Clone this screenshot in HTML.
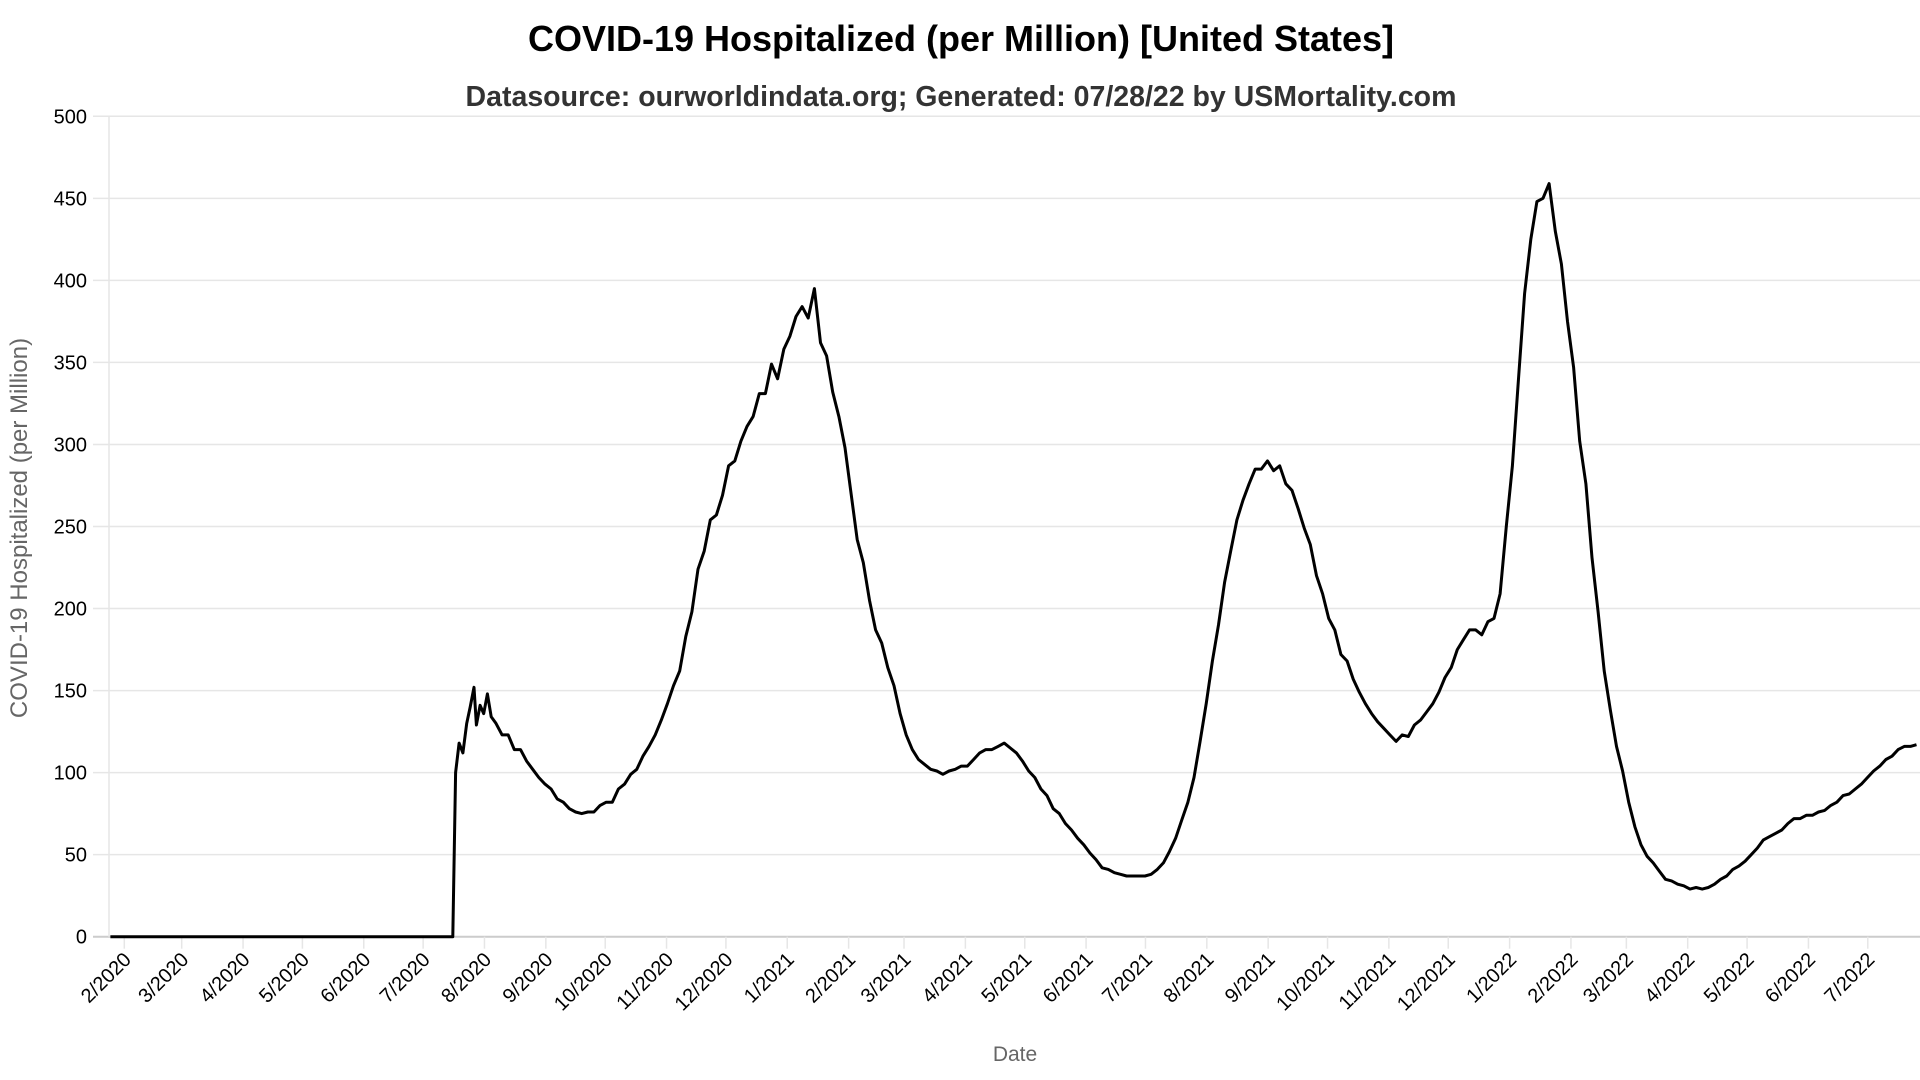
<!DOCTYPE html>
<html><head><meta charset="utf-8"><style>
html,body{margin:0;padding:0;background:#fff;}
svg{display:block;font-family:"Liberation Sans",sans-serif;}
</style></head><body>
<svg id="chart" width="1920" height="1080">
<text x="961" y="51" text-anchor="middle" font-size="36" font-weight="bold" fill="#000">COVID-19 Hospitalized (per Million) [United States]</text>
<text x="961" y="106" text-anchor="middle" font-size="28.5" font-weight="bold" fill="#333">Datasource: ourworldindata.org; Generated: 07/28/22 by USMortality.com</text>
<text transform="translate(27,528) rotate(-90)" text-anchor="middle" font-size="24" fill="#666">COVID-19 Hospitalized (per Million)</text>
<text x="1015" y="1061" text-anchor="middle" font-size="21" fill="#666">Date</text>
<g id="grid"></g><g id="xaxis"></g><g id="series"></g>
</svg>
<script>
// early irregular data (days since 2020-02-01)
const earlyDays = [-7, 166, 167.4, 169.2, 171.1, 173.0, 174.8, 176.7, 177.9, 179.8, 181.6, 183.5, 185.4, 187.8];
const earlyValues = [0, 0, 100, 118, 112, 130, 140, 152, 129, 141, 136, 148, 134, 130];
// regular sampled data starting at day 190.9, every 3.094 days
const regularStartDay = 190.9;
const regularStepDays = 3.094;
const regularValues = [123,123,114,114,107,102,97,93,90,84,82,78,76,75,76,76,80,82,82,90,93,99,102,110,116,123,132,142,153,162,183,198,224,235,254,257,269,287,290,302,311,317,331,331,349,340,358,366,378,384,377,395,362,354,332,317,298,270,242,228,205,187,179,164,153,136,123,114,108,105,102,101,99,101,102,104,104,108,112,114,114,116,118,115,112,107,101,97,90,86,78,75,69,65,60,56,51,47,42,41,39,38,37,37,37,37,38,41,45,52,60,71,82,97,119,142,168,190,216,235,254,266,276,285,285,290,284,287,276,272,261,249,239,220,209,194,187,172,168,157,149,142,136,131,127,123,119,123,122,129,132,137,142,149,158,164,175,181,187,187,184,192,194,209,250,287,340,392,425,448,450,459,430,410,375,347,302,276,231,198,162,138,116,101,82,67,56,49,45,40,35,34,32,31,29,30,29,30,32,35,37,41,43,46,50,54,59,61,63,65,69,72,72,74,74,76,77,80,82,86,87,90,93,97,101,104,108,110,114,116,116,117];
const yTicks = [0,50,100,150,200,250,300,350,400,450,500];
const monthLabels = ["2/2020","3/2020","4/2020","5/2020","6/2020","7/2020","8/2020","9/2020","10/2020","11/2020","12/2020","1/2021","2/2021","3/2021","4/2021","5/2021","6/2021","7/2021","8/2021","9/2021","10/2021","11/2021","12/2021","1/2022","2/2022","3/2022","4/2022","5/2022","6/2022","7/2022"];

const NS = "http://www.w3.org/2000/svg";
const X0 = 124.3, PXDAY = 1.979, Y0 = 936.7, Y500 = 116.3, LEFT = 109, RIGHT = 1920;
const xScale = d => X0 + d * PXDAY;
const yScale = v => Y0 - (v / 500) * (Y0 - Y500);
function mk(tag, attrs, parent){const e=document.createElementNS(NS,tag);for(const k in attrs)e.setAttribute(k,attrs[k]);parent.appendChild(e);return e;}

const grid = document.getElementById('grid');
yTicks.forEach(v=>{
  const y=yScale(v);
  const l=mk('line',{x1:93,x2:RIGHT,y1:y,y2:y,stroke:v===0?'#ccc':'#e6e6e6','stroke-width':v===0?2:1.5},grid);
  
  
  const t=mk('text',{x:87,y:y+7,'text-anchor':'end','font-size':20,fill:'#000'},grid);
  t.textContent=v;
  
  
});
const va=mk('line',{x1:LEFT,x2:LEFT,y1:Y500,y2:Y0,stroke:'#e6e6e6','stroke-width':1.5},grid);



const xa=document.getElementById('xaxis');
const base=Date.UTC(2020,1,1);
monthLabels.forEach(lbl=>{
  const [m,y]=lbl.split('/').map(Number);
  const d=(Date.UTC(y,m-1,1)-base)/86400000;
  const x=xScale(d);
  const tk=mk('line',{x1:x,x2:x,y1:Y0,y2:Y0+12,stroke:'#e6e6e6','stroke-width':1.5},xa);
  
  
  const t=mk('text',{transform:`translate(${x+8},${Y0+24}) rotate(-45)`,'text-anchor':'end','font-size':20,fill:'#000'},xa);
  t.textContent=lbl;
  
  
});

const pts=[];
earlyDays.forEach((d,i)=>pts.push([xScale(d),yScale(earlyValues[i])]));
regularValues.forEach((v,i)=>pts.push([xScale(regularStartDay+i*regularStepDays),yScale(v)]));
const series=document.getElementById('series');
const p=mk('path',{d:'M'+pts.map(q=>q[0].toFixed(1)+','+q[1].toFixed(1)).join('L'),fill:'none',stroke:'#000','stroke-width':3,'stroke-linejoin':'round'},series);


</script>
</body></html>
